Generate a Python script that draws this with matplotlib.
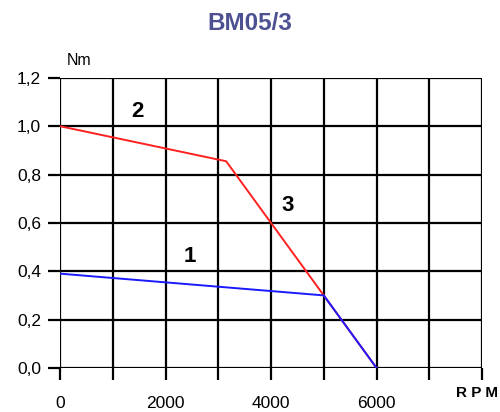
import matplotlib

matplotlib.use("Agg")

import matplotlib.pyplot as plt
import numpy as np

# Torque curves (RPM, Nm)
RPM_CURVE_1 = [0, 5000, 6000]
NM_CURVE_1 = [0.39, 0.30, 0.0]
RPM_CURVE_2 = [0, 3150, 5000, 6000]
NM_CURVE_2 = [1.0, 0.855, 0.30, 0.0]

CURVE_LABELS = ["1", "2", "3"]
LABEL_RPM = [2470, 1460, 4310]
LABEL_NM = [0.46, 1.06, 0.67]

X_TICKS = np.arange(0, 8001, 1000)
X_TICK_LABELS = ["0", "", "2000", "", "4000", "", "6000", "", ""]
Y_TICKS = np.arange(0, 1.21, 0.2)
Y_TICK_LABELS = ["0,0", "0,2", "0,4", "0,6", "0,8", "1,0", "1,2"]

plt.rcParams["font.family"] = ["Liberation Sans", "DejaVu Sans"]

fig = plt.figure(figsize=(5.0, 4.12), dpi=100)
ax = fig.add_axes([0.12, 0.107, 0.844, 0.704])

ax.set_xlim(0, 8000)
ax.set_ylim(0, 1.2)
ax.set_xticks(X_TICKS)
ax.set_xticklabels(X_TICK_LABELS)
ax.set_yticks(Y_TICKS)
ax.set_yticklabels(Y_TICK_LABELS)
ax.grid(True, color="black", linewidth=1.6)
ax.tick_params(axis="both", direction="out", length=8.5, width=1.6,
               color="black", labelsize=12.5)
ax.tick_params(axis="x", pad=12)
ax.tick_params(axis="y", pad=5)
for spine in ax.spines.values():
    spine.set_visible(False)

ax.plot(RPM_CURVE_2, NM_CURVE_2, color="#ff2020", linewidth=1.4, zorder=3)
ax.plot(RPM_CURVE_1, NM_CURVE_1, color="#1a1aff", linewidth=1.4, zorder=4)

for text, x, y in zip(CURVE_LABELS, LABEL_RPM, LABEL_NM):
    ax.text(x, y, text, fontsize=16, fontweight="bold", ha="center", va="center")

fig.text(0.5, 0.942, "BM05/3", fontsize=17.5, fontweight="bold",
         color="#4e5191", ha="center", va="center")
fig.text(0.158, 0.853, "Nm", fontsize=11.5, ha="center", va="center")
fig.text(0.955, 0.047, "R P M", fontsize=11, fontweight="bold",
         ha="center", va="center")

fig.savefig("out.png", dpi=100)
